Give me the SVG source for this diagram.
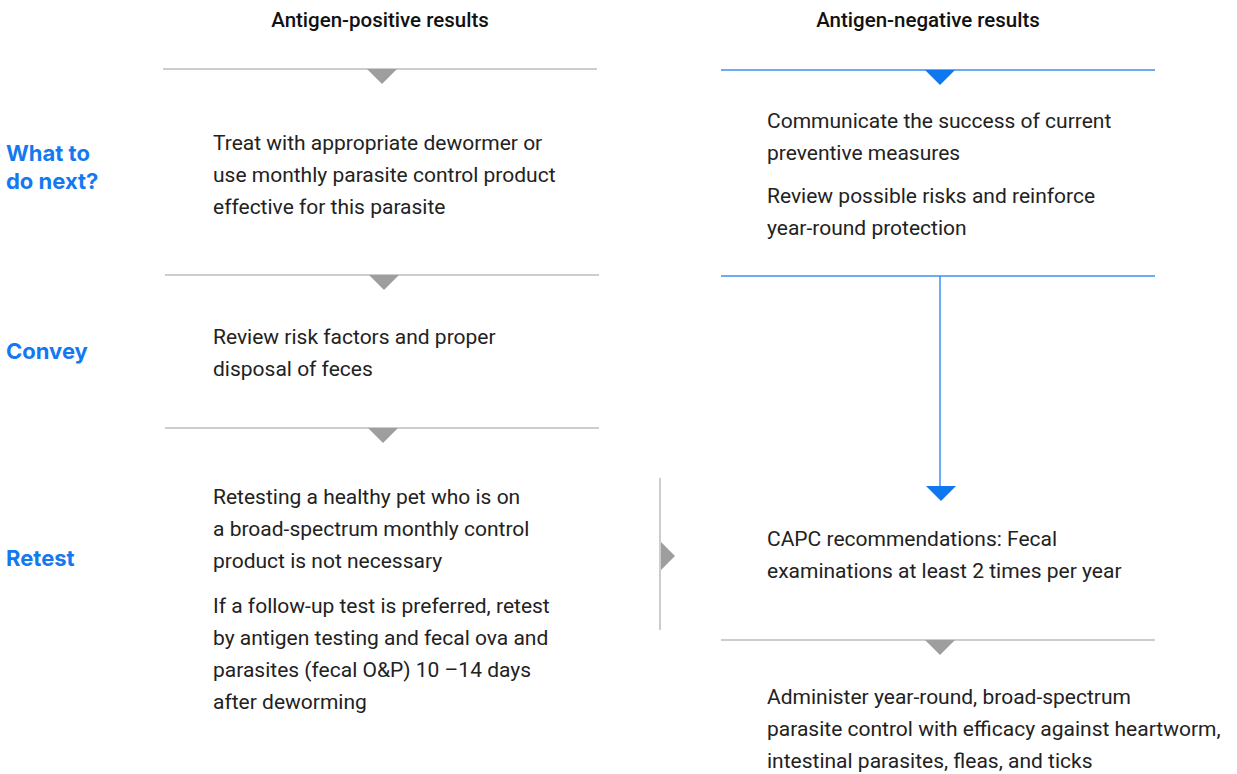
<svg xmlns="http://www.w3.org/2000/svg" width="1237" height="774" viewBox="0 0 1237 774">
<style>
.hdr{font-family:Roboto,"Liberation Sans",sans-serif;font-weight:500;font-size:20.5px;fill:#111;text-anchor:middle}
.side{font-family:Inter,"Liberation Sans",sans-serif;font-weight:700;font-size:22px;fill:#1479f0}
.body{font-family:Roboto,"Liberation Sans",sans-serif;font-size:21px;fill:#222}
.gl{stroke:#bdbdbd;stroke-width:1.5;fill:none}
.bl{stroke:#3b8ff3;stroke-width:1.5;fill:none}
.gt{fill:#9e9e9e}
.bt{fill:#0f77f0}
</style>
<rect width="1237" height="774" fill="#fff"/>
<g id="headers">
<text class="hdr" x="380" y="27">Antigen-positive results</text>
<text class="hdr" x="928" y="27">Antigen-negative results</text>
</g>
<g id="side-labels">
<text class="side" x="6" y="161">What to</text>
<text class="side" x="6" y="189">do next?</text>
<text class="side" x="6" y="359">Convey</text>
<text class="side" x="6" y="566">Retest</text>
</g>
<g id="connectors">
<line class="gl" x1="163" y1="69" x2="597" y2="69"/>
<polygon class="gt" points="367,69 397,69 382,84"/>
<line class="gl" x1="165" y1="275" x2="599" y2="275"/>
<polygon class="gt" points="369,275 399,275 384,290"/>
<line class="gl" x1="165" y1="428" x2="599" y2="428"/>
<polygon class="gt" points="368,428 398,428 383,443"/>
<line class="gl" x1="660" y1="478" x2="660" y2="630"/>
<polygon class="gt" points="661,542 675,556 661,570"/>
<line class="bl" x1="721" y1="70" x2="1155" y2="70"/>
<polygon class="bt" points="925,70 955,70 940,85"/>
<line class="bl" x1="721" y1="276" x2="1155" y2="276"/>
<line class="bl" x1="940" y1="276" x2="940" y2="487"/>
<polygon class="bt" points="926,486 956,486 941,501"/>
<line class="gl" x1="721" y1="640" x2="1155" y2="640"/>
<polygon class="gt" points="925,640 955,640 940,655"/>
</g>
<g id="pos-next">
<text class="body" x="213" y="150">Treat with appropriate dewormer or</text>
<text class="body" x="213" y="182">use monthly parasite control product</text>
<text class="body" x="213" y="214">effective for this parasite</text>
</g>
<g id="pos-convey">
<text class="body" x="213" y="344">Review risk factors and proper</text>
<text class="body" x="213" y="376">disposal of feces</text>
</g>
<g id="pos-retest">
<text class="body" x="213" y="504">Retesting a healthy pet who is on</text>
<text class="body" x="213" y="536">a broad-spectrum monthly control</text>
<text class="body" x="213" y="568">product is not necessary</text>
<text class="body" x="213" y="613">If a follow-up test is preferred, retest</text>
<text class="body" x="213" y="645">by antigen testing and fecal ova and</text>
<text class="body" x="213" y="677">parasites (fecal O&amp;P) 10 –14 days</text>
<text class="body" x="213" y="709">after deworming</text>
</g>
<g id="neg-next">
<text class="body" x="767" y="128">Communicate the success of current</text>
<text class="body" x="767" y="160">preventive measures</text>
<text class="body" x="767" y="203">Review possible risks and reinforce</text>
<text class="body" x="767" y="235">year-round protection</text>
</g>
<g id="neg-retest">
<text class="body" x="767" y="546">CAPC recommendations: Fecal</text>
<text class="body" x="767" y="578">examinations at least 2 times per year</text>
</g>
<g id="neg-admin">
<text class="body" x="767" y="704">Administer year-round, broad-spectrum</text>
<text class="body" x="767" y="736">parasite control with efficacy against heartworm,</text>
<text class="body" x="767" y="768">intestinal parasites, fleas, and ticks</text>
</g>
</svg>
